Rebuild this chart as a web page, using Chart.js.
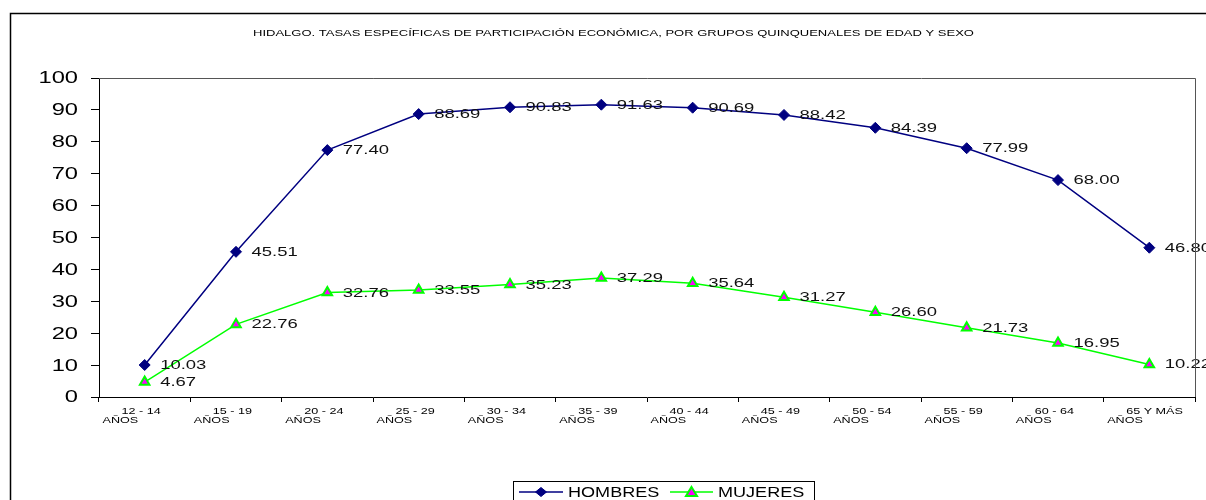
<!DOCTYPE html>
<html lang="es">
<head>
<meta charset="utf-8">
<title>Hidalgo – tasas de participación económica</title>
<script src="https://cdn.jsdelivr.net/npm/chart.js"></script>
<style>
  html, body { margin: 0; padding: 0; background: #fff; }
  canvas { display: block; }
</style>
</head>
<body>
<canvas id="chart" width="1206" height="500"></canvas>
<script>
// Age groups (two-line labels) and participation rates (%)
const titleText = 'HIDALGO. TASAS ESPECÍFICAS DE PARTICIPACIÓN ECONÓMICA, POR GRUPOS QUINQUENALES DE EDAD Y SEXO';
const ageGroups = [
  ['12 - 14', 'AÑOS'], ['15 - 19', 'AÑOS'], ['20 - 24', 'AÑOS'], ['25 - 29', 'AÑOS'],
  ['30 - 34', 'AÑOS'], ['35 - 39', 'AÑOS'], ['40 - 44', 'AÑOS'], ['45 - 49', 'AÑOS'],
  ['50 - 54', 'AÑOS'], ['55 - 59', 'AÑOS'], ['60 - 64', 'AÑOS'], ['65 Y MÁS', 'AÑOS']
];
const hombres = [10.03, 45.51, 77.40, 88.69, 90.83, 91.63, 90.69, 88.42, 84.39, 77.99, 68.00, 46.80];
const mujeres = [4.67, 22.76, 32.76, 33.55, 35.23, 37.29, 35.64, 31.27, 26.60, 21.73, 16.95, 10.22];
const yTicks = { min: 0, max: 100, step: 10 };

const FONT = '"Liberation Sans", Arial, sans-serif';

// Draws text widened horizontally by factor sx around anchor (x, y)
function wideText(ctx, text, x, y, sx, align, baseline) {
  ctx.save();
  ctx.translate(x, y);
  ctx.scale(sx, 1);
  ctx.textAlign = align;
  ctx.textBaseline = baseline;
  ctx.fillText(text, 0, 0);
  ctx.restore();
}

// Axis label renderers (use the scale's own tick positions)
function drawYLabels() {
  const ctx = this.ctx;
  ctx.save();
  ctx.font = '16px ' + FONT;
  ctx.fillStyle = '#000';
  this.ticks.forEach((t, i) => {
    wideText(ctx, String(t.label), this.right - 21, this.getPixelForTick(i) + 1, 1.48, 'right', 'middle');
  });
  ctx.restore();
}
function drawXLabels() {
  const ctx = this.ctx;
  const n = this.ticks.length;
  const cw = (this.right - this.left) / n;
  ctx.save();
  ctx.font = '9px ' + FONT;
  ctx.fillStyle = '#000';
  this.ticks.forEach((t, i) => {
    const left = this.getPixelForTick(i) - cw / 2;
    const lines = Array.isArray(t.label) ? t.label : [t.label];
    wideText(ctx, lines[0], left + 22.5, this.top + 16.5, 1.4, 'left', 'alphabetic');
    if (lines[1]) wideText(ctx, lines[1], left + 3.5, this.top + 26, 1.4, 'left', 'alphabetic');
  });
  ctx.restore();
}

const framePlugin = {
  id: 'frame',
  beforeDraw(chart) {
    const ctx = chart.ctx;
    ctx.save();
    ctx.fillStyle = '#fff';
    ctx.fillRect(0, 0, chart.width, chart.height);
    ctx.strokeStyle = '#000';
    ctx.lineWidth = 1.5;
    ctx.strokeRect(10.5, 13.5, 2000, 2000);
    // title
    ctx.font = '8.5px ' + FONT;
    ctx.fillStyle = '#000';
    wideText(ctx, titleText, 613.5, 36, 1.53, 'center', 'alphabetic');
    ctx.restore();
    const sx = chart.scales.x, sy = chart.scales.y;
    if (sx.drawLabels !== drawXLabels) sx.drawLabels = drawXLabels;
    if (sy.drawLabels !== drawYLabels) sy.drawLabels = drawYLabels;
  },
  afterDatasetsDraw(chart) {
    const ctx = chart.ctx;
    ctx.save();
    ctx.font = '13px ' + FONT;
    ctx.fillStyle = '#111';
    chart.data.datasets.forEach((ds, di) => {
      chart.getDatasetMeta(di).data.forEach((pt, i) => {
        wideText(ctx, ds.data[i].toFixed(2), pt.x + 15.5, pt.y + 0.5, 1.42, 'left', 'middle');
      });
    });
    ctx.restore();
  },
  afterDraw(chart) {
    const ctx = chart.ctx;
    const a = chart.chartArea;
    ctx.save();
    // plot area frame (top and right)
    ctx.strokeStyle = '#555';
    ctx.lineWidth = 1;
    ctx.beginPath();
    ctx.moveTo(a.left, a.top + 0.5);
    ctx.lineTo(a.right + 0.5, a.top + 0.5);
    ctx.lineTo(a.right + 0.5, a.bottom);
    ctx.stroke();

    // legend
    ctx.strokeStyle = '#000';
    ctx.lineWidth = 1;
    ctx.strokeRect(513.5, 481.5, 301, 40);
    const entries = [
      { ds: chart.data.datasets[0], x0: 519, x1: 563, tx: 568 },
      { ds: chart.data.datasets[1], x0: 670, x1: 713, tx: 718 }
    ];
    const ly = 492;
    entries.forEach(e => {
      const ds = e.ds;
      ctx.strokeStyle = ds.borderColor;
      ctx.lineWidth = ds.borderWidth;
      ctx.beginPath();
      ctx.moveTo(e.x0, ly);
      ctx.lineTo(e.x1, ly);
      ctx.stroke();
      const cx = (e.x0 + e.x1) / 2;
      ctx.beginPath();
      if (ds.pointStyle === 'rectRot') {
        ctx.moveTo(cx, ly - 4.5); ctx.lineTo(cx + 5.5, ly); ctx.lineTo(cx, ly + 4.5); ctx.lineTo(cx - 5.5, ly);
      } else {
        ctx.moveTo(cx, ly - 5); ctx.lineTo(cx + 5.5, ly + 4); ctx.lineTo(cx - 5.5, ly + 4);
      }
      ctx.closePath();
      ctx.fillStyle = ds.pointBackgroundColor;
      ctx.fill();
      ctx.strokeStyle = ds.pointBorderColor;
      ctx.lineWidth = ds.pointBorderWidth;
      ctx.stroke();
      ctx.font = '14px ' + FONT;
      ctx.fillStyle = '#000';
      wideText(ctx, ds.label, e.tx, 497, 1.29, 'left', 'alphabetic');
    });
    ctx.restore();
  }
};

new Chart(document.getElementById('chart'), {
  type: 'line',
  data: {
    labels: ageGroups,
    datasets: [
      {
        label: 'HOMBRES',
        data: hombres,
        borderColor: '#000080',
        borderWidth: 1.5,
        pointStyle: 'rectRot',
        pointRadius: 5.5,
        pointBackgroundColor: '#000080',
        pointBorderColor: '#000080',
        pointBorderWidth: 1,
        tension: 0
      },
      {
        label: 'MUJERES',
        data: mujeres,
        borderColor: '#00FF00',
        borderWidth: 1.5,
        pointStyle: 'triangle',
        pointRadius: 5.5,
        pointBackgroundColor: '#FF00FF',
        pointBorderColor: '#00FF00',
        pointBorderWidth: 2,
        tension: 0
      }
    ]
  },
  options: {
    responsive: false,
    animation: false,
    devicePixelRatio: 1,
    layout: { padding: { top: 78, left: 0, right: 11, bottom: 0 } },
    plugins: {
      legend: { display: false },
      title: { display: false },
      tooltip: { enabled: false }
    },
    scales: {
      x: {
        offset: true,
        grid: { offset: true, drawOnChartArea: false, drawTicks: true, tickLength: 5, color: '#000' },
        border: { display: true, color: '#000', width: 1 },
        ticks: { autoSkip: false, maxRotation: 0, font: { size: 9, family: FONT }, color: '#000' },
        afterFit(scale) { scale.height = 103; }
      },
      y: {
        min: yTicks.min,
        max: yTicks.max,
        grid: { drawOnChartArea: false, drawTicks: true, tickLength: 8, color: '#000' },
        border: { display: true, color: '#000', width: 1 },
        ticks: { stepSize: yTicks.step, font: { size: 16, family: FONT }, color: '#000', padding: 13 },
        afterFit(scale) { scale.width = 99; }
      }
    }
  },
  plugins: [framePlugin]
});
</script>
</body>
</html>
